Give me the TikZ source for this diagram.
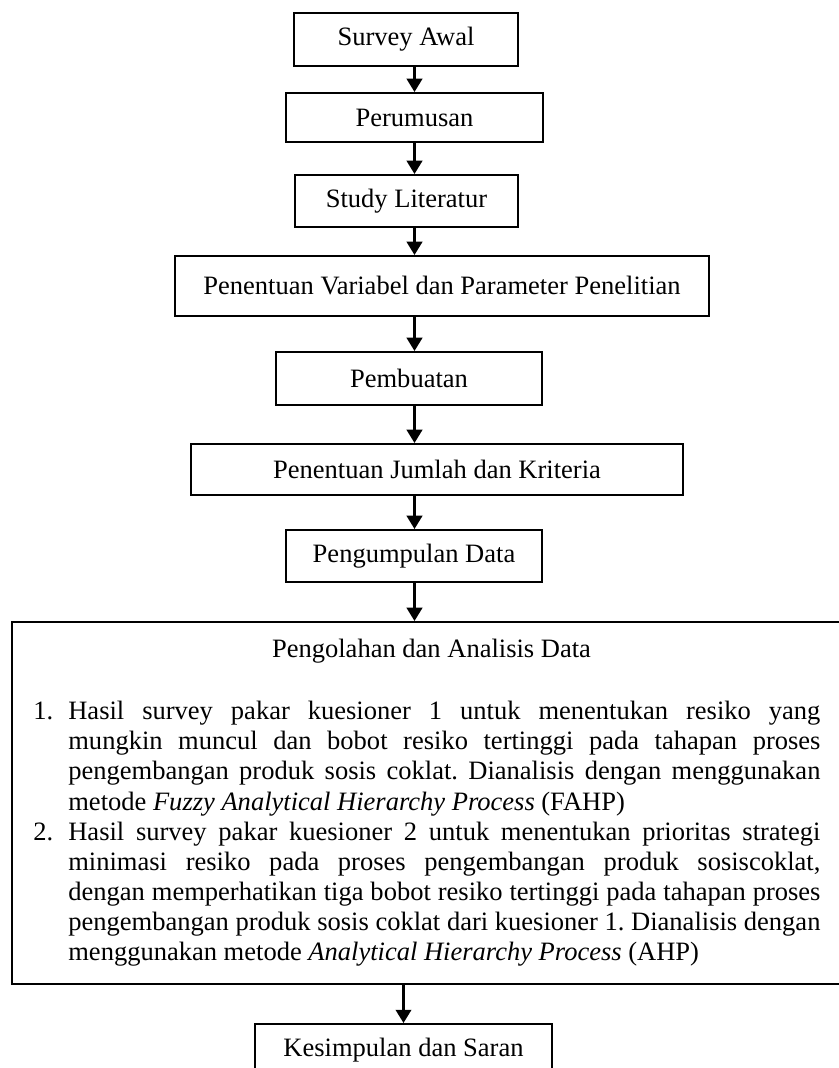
\documentclass[tikz,border=0pt]{standalone}
\usepackage{fontspec}
\setmainfont{Liberation Serif}
\usetikzlibrary{arrows.meta}
\frenchspacing

\begin{document}
\begin{tikzpicture}[x=0.4525pt,y=-0.4525pt,
  kotak/.style={draw,line width=0.9pt,inner sep=0pt,font=\fontsize{12}{13.6}\selectfont},
  panah/.style={line width=1.1pt,-{Triangle[length=6pt,width=7pt]}}]

\def\px{0.4525pt}
\def\gantung{15.8pt}

\useasboundingbox (0,0) rectangle (838,1068);

\node[kotak,minimum width={224*\px},minimum height={53*\px}] (survei) at (406,39.5) {Survey Awal};
\node[kotak,minimum width={257*\px},minimum height={49*\px}] (rumus) at (414.5,117.5) {Perumusan};
\node[kotak,minimum width={223*\px},minimum height={52*\px}] (studi) at (406.5,201) {Study Literatur};
\node[kotak,minimum width={534*\px},minimum height={60*\px}] (variabel) at (442,286) {Penentuan Variabel dan Parameter Penelitian};
\node[kotak,minimum width={266*\px},minimum height={53*\px}] (pembuatan) at (409,378.5) {Pembuatan};
\node[kotak,minimum width={492*\px},minimum height={51*\px}] (jumlah) at (437,469.5) {Penentuan Jumlah dan Kriteria};
\node[kotak,minimum width={256*\px},minimum height={52*\px}] (kumpul) at (414,556) {Pengumpulan Data};

\node[kotak,minimum width={840*\px},minimum height={362*\px},anchor=north west] (olah) at (11,621) {};
\node[anchor=base,inner sep=0pt,font=\fontsize{12}{13.6}\selectfont] (judul) at (431.5,657) {Pengolahan dan Analisis Data};
\node[anchor=north west,inner sep=0pt,text width={787*\px},align=justify,font=\fontsize{12}{13.6}\selectfont] (butir) at (33,701) {%
\tolerance=10000\hyphenpenalty=10000
\hangindent=\gantung\hangafter=1\noindent\makebox[\gantung][l]{1.}Hasil survey pakar kuesioner 1 untuk menentukan resiko yang\linebreak
mungkin muncul dan bobot resiko tertinggi pada tahapan proses\linebreak
pengembangan produk sosis coklat. Dianalisis dengan menggunakan\linebreak
metode \textit{Fuzzy Analytical Hierarchy Process} (FAHP)\par
\hangindent=\gantung\hangafter=1\noindent\makebox[\gantung][l]{2.}Hasil survey pakar kuesioner 2 untuk menentukan prioritas strategi\linebreak
minimasi resiko pada proses pengembangan produk sosiscoklat,\linebreak
dengan memperhatikan tiga bobot resiko tertinggi pada tahapan proses\linebreak
pengembangan produk sosis coklat dari kuesioner 1. Dianalisis dengan\linebreak
menggunakan metode \textit{Analytical Hierarchy Process} (AHP)\par};

\node[kotak,minimum width={297*\px},minimum height={52*\px},anchor=north] (simpul) at (403.5,1023) {Kesimpulan dan Saran};

\coordinate (poros) at (414.5,0);
\foreach \a/\b in {survei/rumus,rumus/studi,studi/variabel,variabel/pembuatan,pembuatan/jumlah,jumlah/kumpul,kumpul/olah}
  \draw[panah] (\a.south -| poros) -- (\b.north -| poros);
\draw[panah] (olah.south -| simpul.north) -- (simpul.north);

\end{tikzpicture}
\end{document}
